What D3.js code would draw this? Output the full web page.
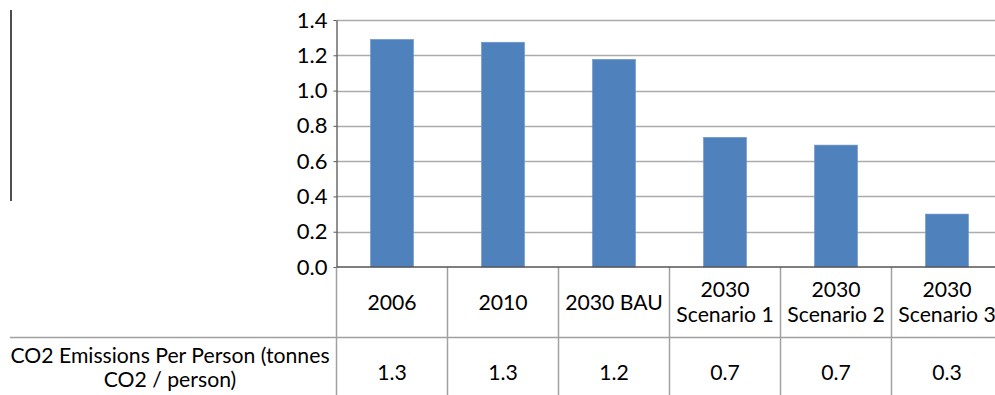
<!DOCTYPE html>
<html>
<head>
<meta charset="utf-8">
<script src="https://cdn.jsdelivr.net/npm/d3@7"></script>
<style>
  html, body { margin: 0; padding: 0; background: #fff; }
  svg { display: block; }
  text { font-family: Lato, "Open Sans", sans-serif; fill: #000; }
</style>
</head>
<body>
<svg id="chart" width="995" height="395"></svg>
<script>
// Category labels (lines of each table header cell)
const categories = ["2006", "2010", "2030 BAU", "2030 Scenario 1", "2030 Scenario 2", "2030 Scenario 3"];
const categoryLines = [["2006"], ["2010"], ["2030 BAU"], ["2030", "Scenario 1"], ["2030", "Scenario 2"], ["2030", "Scenario 3"]];
// CO2 emissions per person, tonnes CO2 / person
const emissions = [1.29, 1.274, 1.177, 0.735, 0.691, 0.30];
const seriesName = ["CO2 Emissions Per Person (tonnes", "CO2 / person)"];
const yTicks = [0, 0.2, 0.4, 0.6, 0.8, 1.0, 1.2, 1.4];

const svg = d3.select("#chart");
const W = 995, H = 395;
const plotLeft = 336.5, plotRight = 1002.5, plotTop = 20, plotBottom = 267;
const tableMid = 337.5;
const fontSize = "21.2px";

const x = d3.scaleBand().domain(categories).range([plotLeft, plotRight]).padding(0);
const y = d3.scaleLinear().domain([0, 1.4]).range([plotBottom, plotTop]);
const barW = x.bandwidth() * 0.388;
const fmt = d3.format(".1f");

// Left border line of the chart frame
svg.append("line")
  .attr("x1", 11).attr("x2", 11).attr("y1", 10).attr("y2", 201)
  .attr("stroke", "#222").attr("stroke-width", 1.6);

// Horizontal gridlines
svg.append("g").selectAll("line").data(yTicks.filter(d => d > 0)).join("line")
  .attr("x1", plotLeft).attr("x2", W)
  .attr("y1", d => Math.round(y(d)) + 0.5).attr("y2", d => Math.round(y(d)) + 0.5)
  .attr("stroke", "#ababab").attr("stroke-width", 1.5);

// Bars
svg.append("g").selectAll("rect").data(emissions).join("rect")
  .attr("x", (d, i) => x(categories[i]) + (x.bandwidth() - barW) / 2)
  .attr("width", barW)
  .attr("y", d => y(d))
  .attr("height", d => plotBottom - y(d))
  .attr("fill", "#4f81bd")
  .attr("stroke", "#6f97cc").attr("stroke-width", 0.6);

// Y axis with tick labels
const yAxis = d3.axisLeft(y).tickValues(yTicks).tickFormat(d3.format(".1f")).tickSize(3).tickSizeOuter(0);
const gy = svg.append("g").attr("transform", `translate(${plotLeft},0)`).call(yAxis);
gy.select(".domain").attr("stroke", "#555").attr("stroke-width", 1.3);
gy.selectAll(".tick line").attr("stroke", "#555");
gy.selectAll(".tick text")
  .attr("x", -9)
  .style("font-family", "Lato, 'Open Sans', sans-serif")
  .style("font-size", "22px").attr("fill", "#000");

// Data table grid
const tableGrid = svg.append("g").attr("stroke", "#a0a0a0").attr("stroke-width", 1.5);
tableGrid.selectAll("line.v").data(categories.concat(["end"])).join("line")
  .attr("class", "v")
  .attr("x1", (d, i) => plotLeft + i * x.bandwidth())
  .attr("x2", (d, i) => plotLeft + i * x.bandwidth())
  .attr("y1", plotBottom).attr("y2", H);
tableGrid.append("line")
  .attr("x1", 10).attr("x2", W).attr("y1", tableMid).attr("y2", tableMid);

// X axis baseline
svg.append("line")
  .attr("x1", plotLeft).attr("x2", W).attr("y1", plotBottom).attr("y2", plotBottom)
  .attr("stroke", "#555").attr("stroke-width", 1.3);

// Header cells (category names)
const header = svg.append("g").selectAll("text").data(categoryLines).join("text")
  .attr("text-anchor", "middle")
  .style("font-size", fontSize);
header.each(function (lines, i) {
  const cx = x(categories[i]) + x.bandwidth() / 2;
  const t = d3.select(this);
  const base = lines.length === 1 ? [310] : [297, 322];
  lines.forEach((ln, j) => {
    t.append("tspan").attr("x", cx).attr("y", base[j]).text(ln);
  });
});

// Value cells
svg.append("g").selectAll("text").data(emissions).join("text")
  .attr("x", (d, i) => x(categories[i]) + x.bandwidth() / 2)
  .attr("y", 380)
  .attr("text-anchor", "middle")
  .style("font-size", fontSize)
  .text(d => fmt(d));

// Series name cell
svg.append("text")
  .attr("text-anchor", "middle")
  .style("font-size", fontSize)
  .selectAll("tspan").data(seriesName).join("tspan")
  .attr("x", 170)
  .attr("y", (d, i) => 363 + i * 24)
  .text(d => d);
</script>
</body>
</html>
